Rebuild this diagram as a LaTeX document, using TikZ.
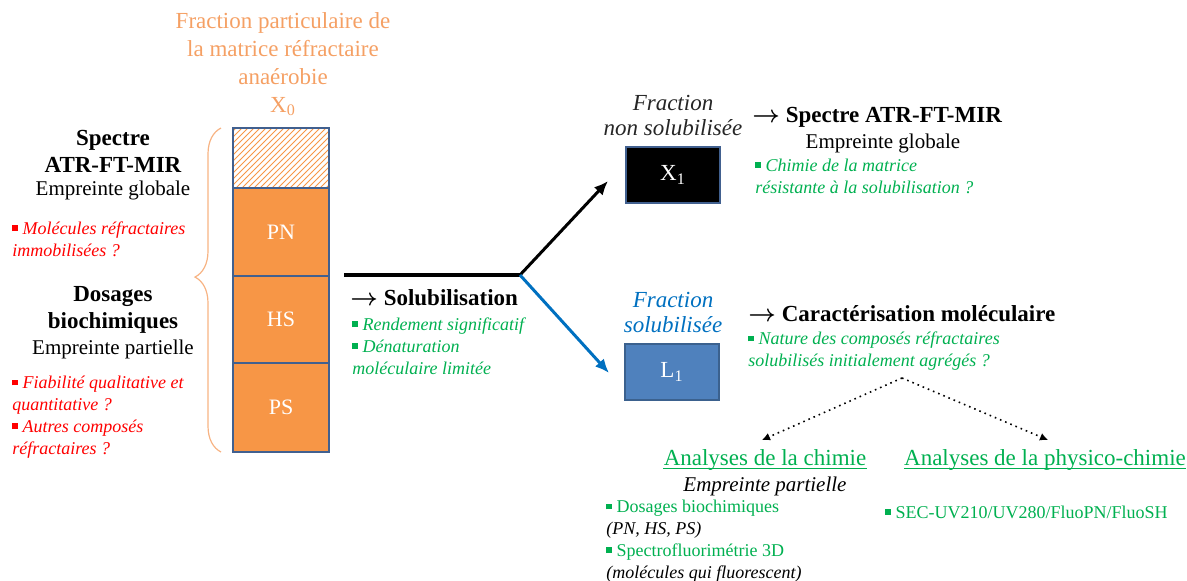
\documentclass[tikz,border=0pt]{standalone}
\usepackage{fontspec}
\setmainfont{Liberation Serif}
\usetikzlibrary{arrows.meta}
\usetikzlibrary{patterns}
\usetikzlibrary{decorations.pathreplacing}
\definecolor{titleor}{HTML}{F5A064}
\definecolor{boxor}{HTML}{F79646}
\definecolor{boxline}{HTML}{41608F}
\definecolor{solblue}{HTML}{0070C0}
\definecolor{lblue}{HTML}{4F81BD}
\definecolor{okgreen}{HTML}{00B050}
\definecolor{nogood}{HTML}{FF0000}
\definecolor{darktxt}{HTML}{262626}
\newcommand{\bsq}{\rule[0.18em]{0.32em}{0.32em}~}
\newcommand{\toarr}{{\boldmath$\rightarrow$}~}

\begin{document}
\begin{tikzpicture}[x=0.5pt, y=-0.5pt, inner sep=0pt,
	bold/.style={font=\fontsize{11.5}{13.5}\selectfont\bfseries, align=center},
	plain/.style={font=\fontsize{10.5}{13}\selectfont, align=center},
	note/.style={font=\fontsize{9}{10.9}\selectfont\itshape, align=left, anchor=west},
	layer/.style={draw=boxline, line width=1pt, fill=boxor, text=white, minimum width=48pt, font=\fontsize{11}{13}\selectfont},
	frac/.style={font=\fontsize{11.5}{12.5}\selectfont\itshape, align=center},
	fracbox/.style={draw=boxline, line width=1pt, text=white, minimum width=47pt, minimum height=28pt, font=\fontsize{11.5}{13}\selectfont},
	head/.style={font=\fontsize{11.5}{13}\selectfont, text=okgreen},
	uline/.style={okgreen, line width=0.5pt},
	flow/.style={line width=1.5pt, -{Latex[length=7pt, width=6pt]}},
	guess/.style={dotted, line width=0.8pt, -{Latex[length=4pt, width=4pt]}}]
		\useasboundingbox (0,0) rectangle (1187,580);
		% matrice X0
		\node[font=\fontsize{11.5}{14}\selectfont, text=titleor, align=center] (title) at (283,64) {Fraction particulaire de\\la matrice réfractaire\\anaérobie\\X\textsubscript{0}};
		\node[layer, minimum height=30pt, fill=white, pattern=north east lines, pattern color=boxor] (top) at (281,158) {};
		\node[layer, minimum height=44pt] (PN) at (281,232) {PN};
		\node[layer, minimum height=43.5pt] (HS) at (281,319.5) {HS};
		\node[layer, minimum height=44.5pt] (PS) at (281,407.5) {PS};
		\draw[titleor!80, line width=0.6pt, decorate, decoration={brace, amplitude=13pt, aspect=0.54}] (221,452) -- (221,128);
		% left column
		\node[bold] (spec) at (113,151) {Spectre\\ATR-FT-MIR};
		\node[plain] (glob) at (113,190) {Empreinte globale};
		\node[note, text=nogood] (immo) at (12,239) {\bsq Molécules réfractaires\\immobilisées ?};
		\node[bold] (dos) at (113,310) {Dosages\\biochimiques};
		\node[plain] (part) at (113,349) {Empreinte partielle};
		\node[note, text=nogood] (fiab) at (12,417) {\bsq Fiabilité qualitative et\\quantitative ?\\\bsq Autres composés\\réfractaires ?};
		% solubilisation
		\coordinate (solstart) at (344,275);
		\coordinate (split) at (520,275);
		\coordinate (tipX1) at (608,181);
		\coordinate (tipL1) at (609,373);
		\draw[line width=1.6pt] (solstart) -- (split);
		\draw[flow] (split) -- (tipX1);
		\draw[flow, solblue] (split) -- (tipL1);
		\node[bold, anchor=west] (sol) at (350,298) {\toarr Solubilisation};
		\node[note, text=okgreen] (rend) at (352,346) {\bsq Rendement significatif\\\bsq Dénaturation\\moléculaire limitée};
		% fraction non solubilisee
		\node[frac, text=darktxt] (nonsol) at (673,116) {Fraction\\non solubilisée};
		\node[fracbox, fill=black] (X1) at (673,175) {X\textsubscript{1}};
		\node[bold, anchor=west] (atr) at (752,117) {\toarr Spectre ATR-FT-MIR};
		\node[plain] (glob2) at (883,143) {Empreinte globale};
		\node[note, text=okgreen] (chim) at (755,176) {\bsq Chimie de la matrice\\résistante à la solubilisation ?};
		% fraction solubilisee
		\node[frac, text=solblue] (solf) at (673,313) {Fraction\\solubilisée};
		\node[fracbox, fill=lblue, draw=lblue!75!black] (L1) at (672,372) {L\textsubscript{1}};
		\node[bold, anchor=west] (carac) at (748,314) {\toarr Caractérisation moléculaire};
		\node[note, text=okgreen] (nat) at (748,351) {\bsq Nature des composés réfractaires\\solubilisés initialement agrégés ?};
		% analyses
		\coordinate (fork) at (902,378);
		\coordinate (tipchim) at (762,440);
		\coordinate (tipphys) at (1048,440);
		\draw[guess] (fork) -- (tipchim);
		\draw[guess] (fork) -- (tipphys);
		\node[head] (anchim) at (765,460) {Analyses de la chimie};
		\draw[uline] ([yshift=-1.6pt]anchim.base west) -- ([yshift=-1.6pt]anchim.base east);
		\node[plain, font=\fontsize{10.5}{13}\selectfont\itshape] (part2) at (765,486) {Empreinte partielle};
		\node[note] (dosb) at (606,541) {{\color{okgreen}\upshape\bsq Dosages biochimiques}\\(PN, HS, PS)\\{\color{okgreen}\upshape\bsq Spectrofluorimétrie 3D}\\(molécules qui fluorescent)};
		\node[head] (anphys) at (1045,460) {Analyses de la physico-chimie};
		\draw[uline] ([yshift=-1.6pt]anphys.base west) -- ([yshift=-1.6pt]anphys.base east);
		\node[note, font=\fontsize{9}{10.9}\selectfont, text=okgreen] (sec) at (885,512) {\bsq SEC-UV210/UV280/FluoPN/FluoSH};
	\end{tikzpicture}
\end{document}
